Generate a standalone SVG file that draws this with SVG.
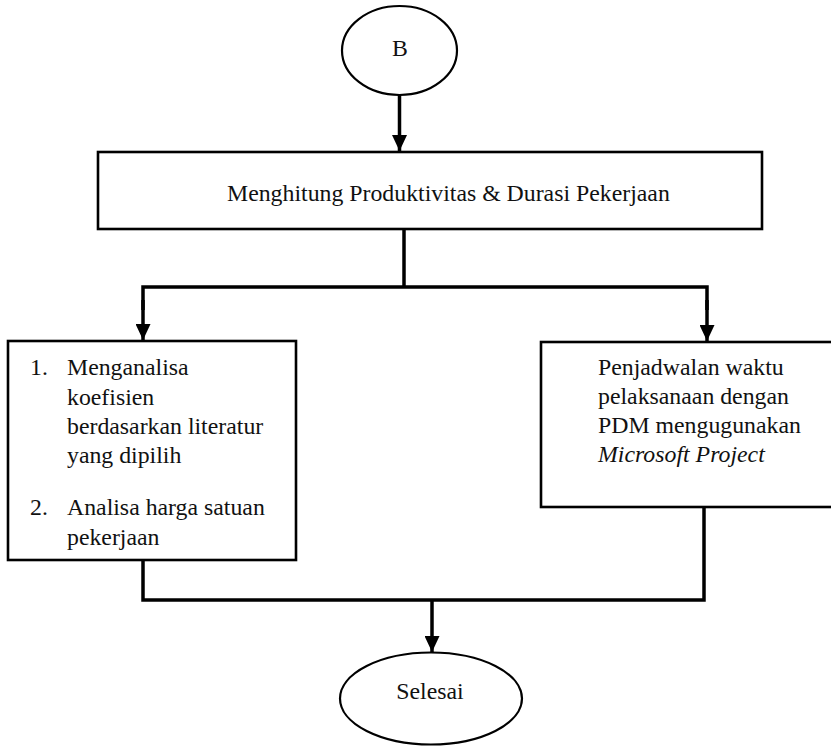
<svg xmlns="http://www.w3.org/2000/svg" width="831" height="746" viewBox="0 0 831 746">
  <defs>
    <marker id="arrow" viewBox="0 0 16 15" markerWidth="16" markerHeight="15" refX="16" refY="7.5" orient="auto" markerUnits="userSpaceOnUse">
      <path d="M0,0 L16,7.5 L0,15 Z" fill="#000"/>
    </marker>
  </defs>
  <style>
    .term { fill: #fff; stroke: #000; stroke-width: 2.2; }
    .box { fill: #fff; stroke: #000; stroke-width: 2.6; }
    .wire { fill: none; stroke: #000; stroke-width: 3.5; }
    text { font-family: "Liberation Serif", "Times New Roman", serif; font-size: 23.8px; fill: #111; }
    .mid { text-anchor: middle; }
    .it { font-style: italic; }
  </style>

  <rect width="831" height="746" fill="#fff"/>

  <!-- connectors -->
  <g id="connectors">
    <line class="wire" x1="399.5" y1="95" x2="399.5" y2="151" marker-end="url(#arrow)"/>
    <line class="wire" x1="404" y1="229" x2="404" y2="287"/>
    <polyline class="wire" points="143,310 143,287 707,287 707,310"/>
    <line class="wire" x1="143" y1="300" x2="143" y2="340" marker-end="url(#arrow)"/>
    <line class="wire" x1="707" y1="300" x2="707" y2="341" marker-end="url(#arrow)"/>
    <polyline class="wire" points="143,560 143,600 704,600 704,507"/>
    <line class="wire" x1="432" y1="600" x2="432" y2="652" marker-end="url(#arrow)"/>
  </g>

  <!-- start terminal -->
  <g id="node-b">
    <ellipse class="term" cx="399.5" cy="50.5" rx="57.5" ry="44.5"/>
    <text class="mid" x="400" y="56">B</text>
  </g>

  <!-- productivity and duration -->
  <g id="node-hitung">
    <rect class="box" x="98" y="152" width="664" height="77"/>
    <text x="227" y="201">Menghitung Produktivitas &amp; Durasi Pekerjaan</text>
  </g>

  <!-- coefficient and unit price analysis -->
  <g id="node-analisa">
    <rect class="box" x="8" y="341" width="288" height="219"/>
    <text x="30" y="375">1.</text>
    <text x="67" y="375">Menganalisa</text>
    <text x="67" y="405">koefisien</text>
    <text x="67" y="434">berdasarkan literatur</text>
    <text x="67" y="463">yang dipilih</text>
    <text x="30" y="515">2.</text>
    <text x="67" y="515">Analisa harga satuan</text>
    <text x="67" y="545">pekerjaan</text>
  </g>

  <!-- scheduling -->
  <g id="node-jadwal">
    <rect class="box" x="541" y="342" width="300" height="165"/>
    <text x="598" y="375">Penjadwalan waktu</text>
    <text x="598" y="404">pelaksanaan dengan</text>
    <text x="598" y="433">PDM mengugunakan</text>
    <text class="it" x="598" y="462">Microsoft Project</text>
  </g>

  <!-- end terminal -->
  <g id="node-selesai">
    <ellipse class="term" cx="431" cy="698.5" rx="91" ry="46"/>
    <text class="mid" x="430" y="699">Selesai</text>
  </g>
</svg>
